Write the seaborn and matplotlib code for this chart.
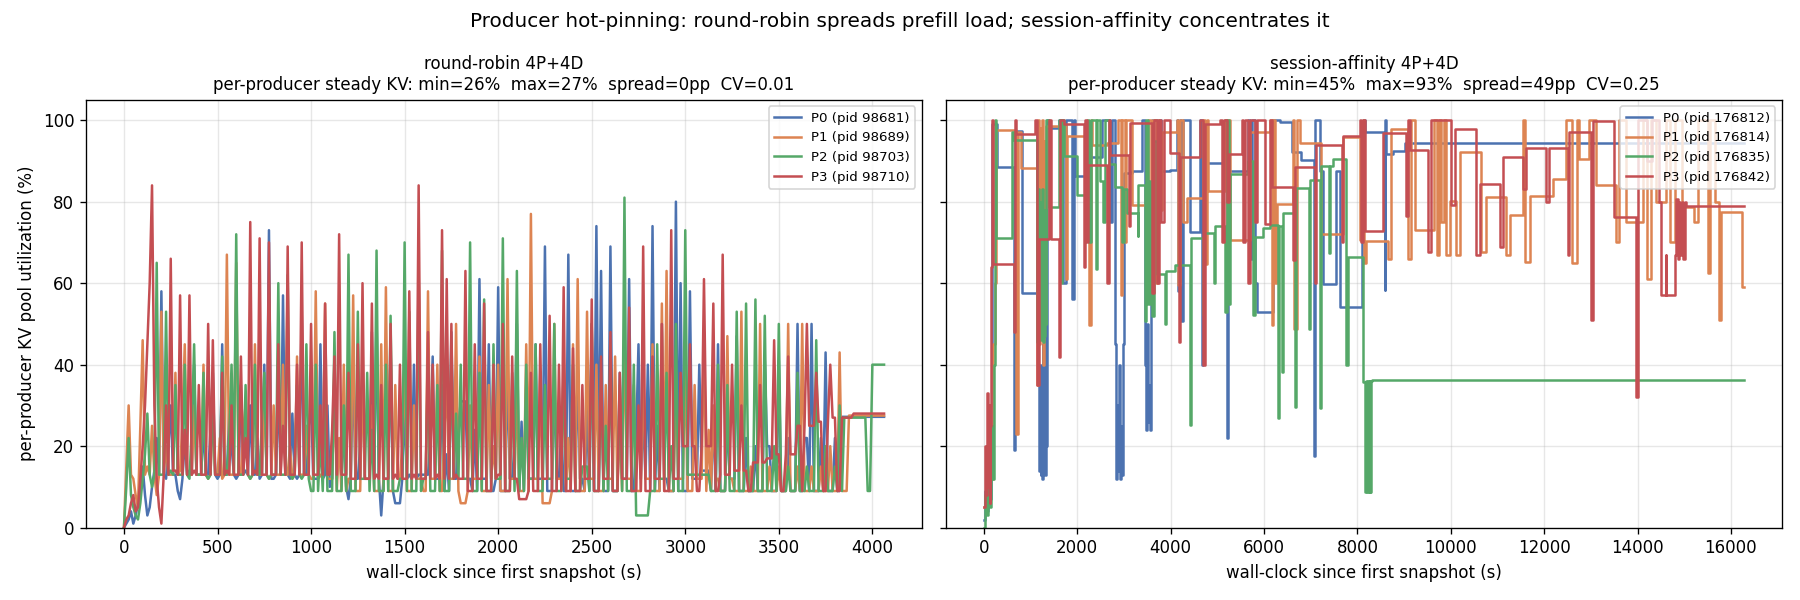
"""
    plot.py
    Per-producer KV pool utilization: round-robin vs session-affinity routing.
"""
import pandas as pd
import seaborn as sns
import matplotlib
matplotlib.use('Agg')
import matplotlib.pyplot as plt

#################################################################################
# Data
#################################################################################

RR_PIDS = ['P0 (pid 98681)', 'P1 (pid 98689)', 'P2 (pid 98703)', 'P3 (pid 98710)']
SA_PIDS = ['P0 (pid 176812)', 'P1 (pid 176814)', 'P2 (pid 176835)', 'P3 (pid 176842)']

# round-robin: snapshot times shared by all producers (s)
RR_T = [
    0, 12.5, 25, 37.5, 50, 62.5, 75, 87.5, 100, 112.5, 125, 137.5, 150, 162.5, 175, 187.5,
    200, 212.5, 225, 237.5, 250, 262.5, 275, 287.5, 300, 312.5, 325, 337.5, 350, 362.5, 375, 387.5,
    400, 412.5, 425, 437.5, 450, 462.5, 475, 487.5, 500, 512.5, 525, 537.5, 550, 562.5, 575, 587.5,
    600, 612.5, 625, 637.5, 650, 662.5, 675, 687.5, 700, 712.5, 725, 737.5, 750, 762.5, 775, 787.5,
    800, 812.5, 825, 837.5, 850, 862.5, 875, 887.5, 900, 912.5, 925, 937.5, 950, 962.5, 975, 987.5,
    1000, 1012.5, 1025, 1037.5, 1050, 1062.5, 1075, 1087.5, 1100, 1112.5, 1125, 1137.5, 1150, 1162.5, 1175, 1187.5,
    1200, 1212.5, 1225, 1237.5, 1250, 1262.5, 1275, 1287.5, 1300, 1312.5, 1325, 1337.5, 1350, 1362.5, 1375, 1387.5,
    1400, 1412.5, 1425, 1437.5, 1450, 1462.5, 1475, 1487.5, 1500, 1512.5, 1525, 1537.5, 1550, 1562.5, 1575, 1587.5,
    1600, 1612.5, 1625, 1637.5, 1650, 1662.5, 1675, 1687.5, 1700, 1712.5, 1725, 1737.5, 1750, 1762.5, 1775, 1787.5,
    1800, 1812.5, 1825, 1837.5, 1850, 1862.5, 1875, 1887.5, 1900, 1912.5, 1925, 1937.5, 1950, 1962.5, 1975, 1987.5,
    2000, 2012.5, 2025, 2037.5, 2050, 2062.5, 2075, 2087.5, 2100, 2112.5, 2125, 2137.5, 2150, 2162.5, 2175, 2187.5,
    2200, 2212.5, 2225, 2237.5, 2250, 2262.5, 2275, 2287.5, 2300, 2312.5, 2325, 2337.5, 2350, 2362.5, 2375, 2387.5,
    2400, 2412.5, 2425, 2437.5, 2450, 2462.5, 2475, 2487.5, 2500, 2512.5, 2525, 2537.5, 2550, 2562.5, 2575, 2587.5,
    2600, 2612.5, 2625, 2637.5, 2650, 2662.5, 2675, 2687.5, 2700, 2712.5, 2725, 2737.5, 2750, 2762.5, 2775, 2787.5,
    2800, 2812.5, 2825, 2837.5, 2850, 2862.5, 2875, 2887.5, 2900, 2912.5, 2925, 2937.5, 2950, 2962.5, 2975, 2987.5,
    3000, 3012.5, 3025, 3037.5, 3050, 3062.5, 3075, 3087.5, 3100, 3112.5, 3125, 3137.5, 3150, 3162.5, 3175, 3187.5,
    3200, 3212.5, 3225, 3237.5, 3250, 3262.5, 3275, 3287.5, 3300, 3312.5, 3325, 3337.5, 3350, 3362.5, 3375, 3387.5,
    3400, 3412.5, 3425, 3437.5, 3450, 3462.5, 3475, 3487.5, 3500, 3512.5, 3525, 3537.5, 3550, 3562.5, 3575, 3587.5,
    3600, 3612.5, 3625, 3637.5, 3650, 3662.5, 3675, 3687.5, 3700, 3712.5, 3725, 3737.5, 3750, 3762.5, 3775, 3787.5,
    3800, 3812.5, 3825, 3837.5, 3850, 3862.5, 3875, 3887.5, 3900, 3912.5, 3925, 3937.5, 3950, 3962.5, 3975, 3987.5,
    4000, 4012.5, 4025, 4037.5, 4050, 4062.5,
]

RR_P0 = [
    0, 1, 2, 4, 1, 3, 6, 10, 15, 8, 3, 5, 10, 14, 22, 13,
    58, 13, 12, 20, 30, 13, 13, 9, 7, 12, 22, 13, 14, 13, 40, 13,
    13, 13, 25, 13, 13, 24, 38, 13, 12, 13, 45, 13, 13, 28, 20, 13,
    12, 13, 35, 13, 14, 13, 30, 13, 13, 22, 12, 13, 40, 13, 73, 12,
    12, 13, 35, 13, 57, 13, 13, 12, 28, 13, 12, 13, 53, 13, 13, 25,
    30, 12, 12, 12, 45, 12, 13, 30, 10, 12, 38, 12, 20, 12, 25, 10,
    7, 12, 40, 12, 12, 20, 35, 12, 12, 12, 48, 12, 52, 12, 3, 12,
    12, 12, 45, 9, 6, 6, 6, 12, 30, 12, 13, 12, 40, 12, 13, 13,
    13, 13, 13, 22, 42, 12, 12, 12, 35, 9, 18, 9, 48, 12, 12, 25,
    31, 31, 31, 12, 12, 9, 24, 9, 61, 12, 12, 12, 45, 9, 9, 12,
    59, 9, 9, 9, 40, 12, 12, 20, 50, 9, 26, 9, 35, 12, 12, 12,
    45, 12, 12, 12, 69, 9, 9, 9, 38, 12, 12, 25, 9, 9, 67, 9,
    9, 9, 40, 12, 12, 9, 30, 9, 50, 9, 74, 9, 63, 9, 9, 9,
    69, 9, 9, 9, 38, 12, 12, 12, 61, 9, 9, 22, 45, 12, 28, 12,
    40, 9, 74, 9, 25, 9, 50, 12, 12, 9, 9, 9, 80, 9, 60, 9,
    9, 9, 58, 12, 12, 12, 40, 14, 14, 14, 14, 9, 28, 9, 45, 9,
    9, 9, 28, 12, 12, 12, 47, 9, 9, 9, 22, 9, 9, 9, 20, 9,
    9, 9, 41, 20, 20, 9, 9, 9, 41, 9, 9, 9, 22, 9, 9, 9,
    50, 9, 9, 22, 22, 9, 50, 9, 9, 9, 22, 9, 43, 9, 9, 9,
    22, 9, 9, 27.2, 27.2, 27.2, 27.2, 27.2, 27.2, 27.2, 27.2, 27.2, 27.2, 27.2, 27.2, 27.2,
    27.2, 27.2, 27.2, 27.2, 27.2, 27.2,
]

RR_P1 = [
    0, 15, 30, 13, 12, 8, 5, 25, 46, 13, 15, 13, 25, 13, 8, 13,
    53, 13, 20, 13, 13, 13, 38, 13, 14, 26, 45, 13, 13, 13, 30, 13,
    13, 13, 40, 13, 12, 13, 30, 13, 13, 22, 12, 13, 67, 13, 13, 13,
    65, 13, 13, 24, 30, 13, 12, 13, 45, 13, 13, 13, 35, 13, 12, 13,
    30, 13, 13, 13, 40, 13, 13, 20, 12, 13, 42, 13, 13, 13, 25, 13,
    12, 12, 58, 12, 13, 12, 55, 12, 12, 12, 35, 9, 22, 9, 40, 9,
    12, 12, 57, 9, 9, 9, 38, 12, 12, 12, 30, 9, 9, 9, 45, 9,
    59, 9, 9, 9, 35, 12, 12, 20, 42, 9, 9, 9, 30, 12, 12, 12,
    9, 9, 58, 12, 12, 12, 40, 9, 9, 24, 35, 12, 12, 12, 50, 9,
    6, 6, 6, 9, 30, 12, 12, 12, 42, 9, 9, 9, 35, 12, 20, 12,
    40, 9, 9, 9, 61, 12, 12, 12, 35, 9, 9, 9, 45, 9, 77, 12,
    12, 12, 38, 6, 6, 6, 6, 9, 50, 12, 12, 12, 40, 9, 22, 9,
    45, 9, 61, 9, 9, 9, 53, 12, 12, 12, 40, 9, 9, 9, 35, 12,
    12, 12, 42, 9, 26, 9, 50, 12, 12, 12, 35, 9, 9, 9, 40, 12,
    12, 12, 45, 9, 9, 9, 55, 9, 63, 9, 9, 9, 38, 12, 12, 12,
    42, 9, 9, 9, 35, 12, 12, 12, 48, 9, 24, 9, 30, 12, 12, 9,
    9, 9, 47, 12, 12, 9, 9, 9, 53, 9, 9, 9, 15, 9, 9, 9,
    50, 9, 9, 9, 15, 9, 9, 9, 15, 9, 9, 9, 50, 9, 9, 9,
    15, 9, 50, 9, 9, 9, 15, 9, 9, 9, 15, 9, 9, 9, 20, 9,
    9, 9, 43, 9, 9, 9, 27.5, 27.5, 27.5, 27.5, 27.5, 27.5, 27.5, 27.5, 27.5, 27.5,
    27.5, 27.5, 27.5, 27.5, 27.5, 27.5,
]

RR_P2 = [
    0, 10, 22, 8, 5, 3, 2, 6, 12, 18, 28, 13, 10, 13, 65, 13,
    13, 13, 53, 13, 14, 13, 35, 13, 13, 13, 40, 13, 12, 24, 45, 13,
    13, 13, 38, 13, 12, 13, 30, 13, 13, 13, 42, 13, 13, 22, 40, 13,
    72, 13, 13, 13, 35, 13, 12, 13, 40, 13, 13, 26, 38, 13, 12, 13,
    13, 13, 60, 13, 13, 13, 62, 13, 12, 13, 35, 13, 12, 13, 45, 12,
    9, 9, 40, 9, 22, 9, 35, 9, 9, 9, 48, 9, 9, 9, 30, 9,
    67, 9, 9, 9, 53, 12, 12, 12, 38, 9, 24, 9, 68, 9, 9, 9,
    40, 9, 52, 9, 9, 9, 12, 12, 70, 9, 53, 9, 9, 9, 64, 9,
    12, 12, 40, 9, 9, 9, 35, 9, 68, 9, 9, 9, 45, 12, 28, 12,
    40, 12, 12, 12, 70, 9, 9, 9, 38, 9, 56, 9, 9, 9, 45, 12,
    12, 12, 71, 9, 9, 9, 38, 9, 63, 9, 22, 9, 40, 12, 12, 12,
    45, 9, 9, 9, 35, 12, 12, 12, 50, 9, 9, 9, 42, 12, 12, 12,
    40, 9, 9, 9, 15, 15, 15, 9, 50, 9, 9, 9, 38, 9, 25, 9,
    45, 9, 9, 9, 35, 9, 81, 9, 9, 9, 40, 3, 3, 3, 3, 3,
    3, 9, 9, 9, 45, 12, 12, 12, 38, 9, 20, 9, 50, 9, 9, 9,
    73, 13, 13, 13, 13, 13, 13, 13, 13, 13, 13, 9, 9, 9, 40, 9,
    9, 9, 35, 9, 9, 9, 53, 9, 9, 9, 55, 9, 9, 9, 56, 9,
    9, 9, 52, 9, 9, 9, 20, 9, 50, 9, 9, 9, 15, 9, 9, 9,
    38, 9, 9, 9, 15, 9, 9, 9, 46, 9, 9, 9, 20, 9, 9, 9,
    15, 9, 30, 9, 27, 27, 27, 27, 27, 27, 27, 27, 27, 27, 9, 9,
    40, 40, 40, 40, 40, 40,
]

RR_P3 = [
    0, 2, 3, 6, 8, 4, 5, 12, 20, 30, 45, 60, 84, 30, 12, 5,
    1, 13, 30, 13, 66, 14, 14, 13, 57, 13, 24, 13, 57, 13, 14, 13,
    35, 13, 13, 13, 50, 13, 46, 13, 13, 13, 38, 13, 14, 13, 30, 13,
    13, 13, 42, 13, 22, 13, 75, 13, 14, 13, 71, 13, 13, 13, 70, 13,
    13, 13, 45, 13, 25, 13, 69, 13, 13, 13, 40, 13, 70, 13, 13, 13,
    50, 13, 13, 13, 30, 13, 55, 13, 13, 24, 42, 13, 72, 13, 13, 13,
    38, 12, 12, 12, 45, 12, 60, 12, 12, 12, 55, 12, 13, 12, 35, 12,
    12, 12, 50, 12, 13, 12, 40, 12, 12, 12, 58, 12, 13, 12, 84, 12,
    12, 12, 48, 12, 40, 12, 13, 12, 73, 12, 61, 12, 50, 12, 13, 12,
    12, 12, 63, 9, 9, 9, 45, 12, 12, 12, 55, 9, 9, 9, 40, 12,
    13, 13, 50, 9, 9, 9, 42, 12, 12, 7, 7, 7, 7, 9, 38, 9,
    9, 9, 45, 12, 12, 12, 52, 9, 9, 9, 40, 9, 59, 9, 9, 9,
    44, 9, 9, 9, 35, 12, 12, 12, 56, 9, 9, 9, 42, 12, 12, 12,
    48, 9, 9, 9, 38, 12, 12, 12, 54, 9, 9, 9, 30, 9, 69, 9,
    9, 9, 42, 12, 12, 12, 50, 9, 9, 9, 73, 12, 12, 12, 38, 20,
    20, 20, 45, 20, 20, 9, 9, 20, 61, 20, 20, 20, 55, 9, 9, 13,
    67, 13, 13, 13, 40, 14, 14, 14, 30, 14, 14, 9, 9, 16, 16, 16,
    35, 16, 16, 17, 17, 17, 46, 18, 18, 9, 9, 18, 42, 18, 18, 18,
    25, 25, 9, 25, 50, 25, 25, 25, 38, 26, 26, 9, 9, 26, 40, 27,
    27, 9, 9, 27, 27, 27, 27, 27, 28, 28, 28, 28, 28, 28, 28, 28,
    28, 28, 28, 28, 28, 28,
]

# session-affinity: each producer has its own change points (s) and levels (%)
SA_P0_T = [0, 30, 60, 90, 120, 150, 175, 285, 645, 665, 820, 1140, 1160, 1180,
           1200, 1215, 1230, 1245, 1260, 1275, 1290, 1305, 1320, 1335, 1350,
           1390, 1600, 1700, 1760, 1880, 1920, 1960, 2250, 2530, 2700, 2750,
           2810, 2830, 2850, 2870, 2890, 2910, 2930, 2950, 2970, 2990, 3170,
           3385, 3450, 3470, 3490, 3510, 3530, 3550, 3570, 3590, 3800, 3990,
           4130, 4160, 4190, 4230, 4260, 4415, 4630, 4680, 4700, 5160, 5200,
           5230, 5660, 5700, 5740, 5800, 5840, 6200, 6340, 6590, 6800, 7070,
           7090, 7200, 7270, 7550, 7620, 8090, 8110, 8157, 8585, 8600, 8620,
           8760, 9010, 16275]
SA_P0 = [2, 9, 4, 18, 7, 30, 99, 88.4, 19, 97.4, 57.6, 99, 35, 14,
         40, 13, 28, 12, 45, 14, 30, 13, 55, 20, 100,
         98.2, 100, 60, 100, 56, 100, 86.4, 90.9, 100, 75, 100,
         45, 12, 30, 14, 40, 12, 25, 13, 45, 87, 87.5,
         100, 40, 24, 50, 26, 35, 24, 60, 100, 87.5, 87.8,
         100, 58, 100, 50.6, 100, 72.5, 100, 40, 89.4, 100, 21.9,
         87.6, 100, 66, 100, 60, 52.9, 100, 99.6, 92.1, 90.3, 17.6,
         100, 87.6, 59.7, 87.6, 54.2, 78, 100, 97.2, 58.3, 100, 91.7,
         92.5, 94.3, 94.3]

SA_P1_T = [0, 40, 80, 120, 160, 190, 230, 250, 690, 720, 790, 1140, 1160, 1180,
           1200, 1220, 1240, 1260, 1280, 1300, 1330, 1750, 1770, 2250, 2290,
           2320, 2640, 2880, 2930, 2960, 3020, 3050, 3170, 3520, 3580, 3620,
           3680, 3720, 3760, 3810, 4130, 4160, 4200, 4260, 4340, 4700, 4740,
           4770, 4810, 5160, 5200, 5240, 5270, 5700, 6120, 6160, 6200, 6240,
           6270, 6620, 6650, 6700, 6770, 7230, 7690, 8050, 8120, 8150, 8190,
           8650, 8725, 9080, 9150, 9230, 9650, 9700, 9750, 9800, 9850, 9900,
           9975, 10120, 10190, 10650, 10760, 11190, 11260, 11540, 11600, 11690,
           12180, 12470, 12600, 12700, 12750, 12960, 13100, 13540, 13600, 13760,
           14110, 14200, 14280, 14400, 14600, 14700, 14800, 14950, 15200, 15300,
           15500, 15550, 15650, 15740, 15780, 16240, 16280]
SA_P1 = [5, 15, 8, 25, 12, 45, 60, 97.5, 23, 97, 88.3, 35, 100, 45,
         98, 60, 100, 40, 95, 55, 98.5, 61, 96, 49.8, 100,
         94, 94.4, 100, 57, 100, 70, 100, 79.2, 100, 80, 100,
         60, 100, 78, 97, 100, 59.5, 100, 75, 81, 100, 64.6,
         100, 82.7, 100, 60, 100, 70.5, 97.2, 100, 49.7, 100, 60,
         79.5, 100, 48.8, 100, 94.3, 72.1, 95.8, 70.5, 100, 65, 70.3,
         66, 97.8, 66, 100, 73, 100, 67, 100, 75, 100, 67,
         80.2, 67, 92.1, 67.6, 81.1, 67, 76.8, 100, 65.2, 81.3,
         85.6, 100, 65, 100, 90.4, 100, 84, 70, 100, 75,
         100, 61, 100, 80, 100, 70, 100, 78.6, 75, 100,
         62.4, 100, 80, 51, 77.4, 59, 59]

SA_P2_T = [0, 30, 60, 90, 120, 150, 180, 210, 240, 250, 610, 640, 1140, 1160,
           1175, 1190, 1205, 1220, 1235, 1250, 1265, 1280, 1295, 1310, 1325,
           1340, 1390, 1600, 1650, 1680, 1720, 2000, 2200, 2260, 2290, 2400,
           2430, 2480, 2560, 2600, 2670, 2810, 2950, 3000, 3065, 3290, 3310,
           3450, 3480, 3520, 3560, 3600, 3650, 3700, 3880, 3900, 4100, 4415,
           4440, 4700, 4720, 4920, 4940, 5160, 5200, 5240, 5270, 5660, 5770,
           5800, 5980, 6120, 6300, 6330, 6380, 6410, 6670, 6690, 6960, 6980,
           7190, 7210, 7230, 7400, 7420, 7480, 7750, 7790, 8130, 8160, 8180,
           8200, 8220, 8240, 8260, 8280, 8300, 8320, 16275]
SA_P2 = [0, 8, 3, 14, 5, 25, 12, 40, 100, 71.2, 97, 95.2, 45.6, 83,
         47, 80, 46, 75, 48, 83, 45.6, 70, 47, 78, 50,
         100, 78.7, 100, 60, 100, 91.3, 81.6, 100, 70, 100, 63.5,
         100, 85, 75, 100, 89.2, 83.5, 70, 83, 77.3, 71.6, 84,
         50.6, 100, 55, 85, 52, 95, 62.3, 50, 63.1, 64.4, 25.2,
         71.2, 52.3, 72.2, 60, 74, 53, 100, 55, 86.9, 90, 52.3,
         71.3, 73.5, 74.2, 26.8, 74, 38.3, 77.1, 29.7, 83.3, 48.8, 85.4,
         29.3, 85.4, 88.7, 67.5, 88.7, 90.5, 39.9, 66.5, 35.7, 8.7, 36,
         8.7, 36, 8.7, 36, 8.7, 36, 36.2, 36.2]

SA_P3_T = [0, 20, 40, 60, 80, 100, 120, 140, 160, 180, 190, 640, 660, 680,
           1100, 1140, 1170, 1400, 1430, 1600, 1630, 1710, 2140, 2170, 2200,
           2240, 2640, 2680, 2710, 3100, 3130, 3600, 3640, 3700, 3740, 3800,
           3850, 3990, 4180, 4200, 4630, 4700, 4740, 5060, 5100, 5150, 5200,
           5240, 5520, 5560, 5600, 5650, 5700, 5800, 5850, 6020, 6120, 6160,
           6620, 6660, 7090, 7120, 7660, 7690, 8050, 8080, 8120, 8157, 8550,
           9050, 9090, 9120, 9510, 9580, 10010, 10080, 10540, 10620, 11050,
           11120, 11540, 11610, 12040, 12110, 12500, 12540, 13000, 13040, 13500,
           13960, 14000, 14200, 14300, 14450, 14500, 14600, 14620, 14800, 14830,
           14860, 14890, 14920, 14950, 14980, 15010, 15030, 16275]
SA_P3 = [5, 20, 8, 33, 10, 30, 6, 25, 64, 100, 64.6, 48, 100, 96.7,
         100, 35, 70.9, 100, 70.9, 41.9, 100, 99, 64, 100, 70,
         89, 60, 100, 91.4, 74, 99.4, 57.5, 100, 60, 100, 75,
         100, 92, 45.6, 91, 100, 40, 99, 100, 70, 100, 80,
         91.8, 100, 70, 100, 60, 100, 75, 100, 74.5, 100, 83.5,
         65.6, 88.4, 60, 93.9, 70, 96, 100, 70, 100, 72.9, 96.8,
         76.6, 100, 92.7, 67.6, 100, 79.1, 97.8, 67, 84.4, 68.8,
         90.9, 83, 93.1, 80, 93.1, 67, 97, 51, 99.8, 76.2,
         32, 100, 90, 100, 80, 57.1, 67, 57, 66.8, 80.7,
         66, 80, 67, 80, 66, 80, 79, 79]

RR_TITLE = ('round-robin 4P+4D\nper-producer steady KV: '
            'min=26%  max=27%  spread=0pp  CV=0.01')
SA_TITLE = ('session-affinity 4P+4D\nper-producer steady KV: '
            'min=45%  max=93%  spread=49pp  CV=0.25')

#################################################################################
# Helpers
#################################################################################

def to_frame(series):
    # series: list of (label, times, values)
    parts = []
    for label, t, v in series:
        parts.append(pd.DataFrame({'t': t, 'kv': v, 'producer': label}))
    return pd.concat(parts, ignore_index=True)


def draw_panel(ax, df, labels, title, drawstyle):
    sns.lineplot(data=df, x='t', y='kv', hue='producer', hue_order=labels,
                 palette=sns.color_palette('deep', 4), estimator=None,
                 sort=False, linewidth=1.5, drawstyle=drawstyle, ax=ax)
    ax.set_title(title, fontsize=10)
    ax.set_xlabel('wall-clock since first snapshot (s)')
    ax.grid(True, alpha=0.3)
    lg = ax.legend(loc='upper right', fontsize=8)
    lg.set_title(None)

#################################################################################
# Main
#################################################################################

def main():
    rr = to_frame([(RR_PIDS[0], RR_T, RR_P0), (RR_PIDS[1], RR_T, RR_P1),
                   (RR_PIDS[2], RR_T, RR_P2), (RR_PIDS[3], RR_T, RR_P3)])
    sa = to_frame([(SA_PIDS[0], SA_P0_T, SA_P0), (SA_PIDS[1], SA_P1_T, SA_P1),
                   (SA_PIDS[2], SA_P2_T, SA_P2), (SA_PIDS[3], SA_P3_T, SA_P3)])

    fig, axarr = plt.subplots(1, 2, sharey=True, figsize=(15, 5), dpi=120)
    draw_panel(axarr[0], rr, RR_PIDS, RR_TITLE, 'default')
    draw_panel(axarr[1], sa, SA_PIDS, SA_TITLE, 'steps-post')

    axarr[0].set_ylabel('per-producer KV pool utilization (%)')
    axarr[0].set_ylim(0, 105)
    axarr[0].set_yticks([0, 20, 40, 60, 80, 100])

    fig.suptitle('Producer hot-pinning: round-robin spreads prefill load; '
                 'session-affinity concentrates it', fontsize=12)
    fig.tight_layout()
    fig.savefig('out.png', dpi=120)


if __name__ == '__main__':
    main()
